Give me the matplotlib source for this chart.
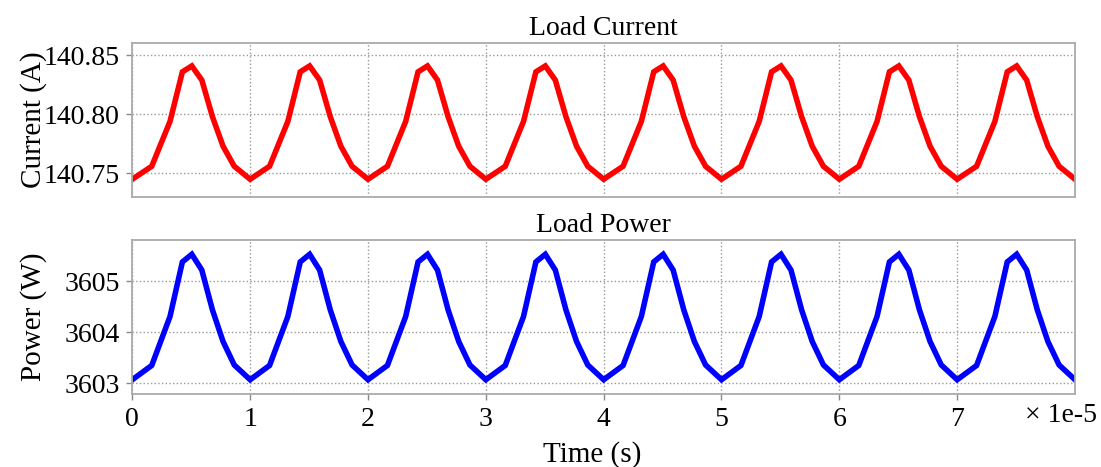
import numpy as np
import matplotlib
matplotlib.use("Agg")
import matplotlib.pyplot as plt
from matplotlib.ticker import FuncFormatter

plt.rcParams["font.family"] = ["Liberation Serif", "DejaVu Serif"]

# Sample times in units of 1e-5 s
time_10us = [
    0.0, 0.165, 0.32, 0.425, 0.505, 0.59, 0.68, 0.77, 0.865,
    1.0, 1.165, 1.32, 1.425, 1.505, 1.59, 1.68, 1.77, 1.865,
    2.0, 2.165, 2.32, 2.425, 2.505, 2.59, 2.68, 2.77, 2.865,
    3.0, 3.165, 3.32, 3.425, 3.505, 3.59, 3.68, 3.77, 3.865,
    4.0, 4.165, 4.32, 4.425, 4.505, 4.59, 4.68, 4.77, 4.865,
    5.0, 5.165, 5.32, 5.425, 5.505, 5.59, 5.68, 5.77, 5.865,
    6.0, 6.165, 6.32, 6.425, 6.505, 6.59, 6.68, 6.77, 6.865,
    7.0, 7.165, 7.32, 7.425, 7.505, 7.59, 7.68, 7.77, 7.865,
    8.0,
]

# Load current (A)
load_current = [
    140.745, 140.756, 140.794, 140.836, 140.841, 140.829, 140.798, 140.773, 140.756,
    140.745, 140.756, 140.794, 140.836, 140.841, 140.829, 140.798, 140.773, 140.756,
    140.745, 140.756, 140.794, 140.836, 140.841, 140.829, 140.798, 140.773, 140.756,
    140.745, 140.756, 140.794, 140.836, 140.841, 140.829, 140.798, 140.773, 140.756,
    140.745, 140.756, 140.794, 140.836, 140.841, 140.829, 140.798, 140.773, 140.756,
    140.745, 140.756, 140.794, 140.836, 140.841, 140.829, 140.798, 140.773, 140.756,
    140.745, 140.756, 140.794, 140.836, 140.841, 140.829, 140.798, 140.773, 140.756,
    140.745, 140.756, 140.794, 140.836, 140.841, 140.829, 140.798, 140.773, 140.756,
    140.745,
]

# Load power (W)
load_power = [
    3603.07, 3603.35, 3604.31, 3605.38, 3605.53, 3605.22, 3604.44, 3603.82, 3603.36,
    3603.07, 3603.35, 3604.31, 3605.38, 3605.53, 3605.22, 3604.44, 3603.82, 3603.36,
    3603.07, 3603.35, 3604.31, 3605.38, 3605.53, 3605.22, 3604.44, 3603.82, 3603.36,
    3603.07, 3603.35, 3604.31, 3605.38, 3605.53, 3605.22, 3604.44, 3603.82, 3603.36,
    3603.07, 3603.35, 3604.31, 3605.38, 3605.53, 3605.22, 3604.44, 3603.82, 3603.36,
    3603.07, 3603.35, 3604.31, 3605.38, 3605.53, 3605.22, 3604.44, 3603.82, 3603.36,
    3603.07, 3603.35, 3604.31, 3605.38, 3605.53, 3605.22, 3604.44, 3603.82, 3603.36,
    3603.07, 3603.35, 3604.31, 3605.38, 3605.53, 3605.22, 3604.44, 3603.82, 3603.36,
    3603.07,
]

current_ticks = [140.75, 140.80, 140.85]
power_ticks = [3603, 3604, 3605]
time_ticks = [0, 1, 2, 3, 4, 5, 6, 7]

t = np.array(time_10us) * 1e-5

W, H = 1101, 467
fig = plt.figure(figsize=(W / 100, H / 100), dpi=100)

left = 132.3 / W
width = (1075 - 132.3) / W
ax1 = fig.add_axes([left, (H - 196.7) / H, width, (196.7 - 43.3) / H])
ax2 = fig.add_axes([left, (H - 394.3) / H, width, (394.3 - 240) / H], sharex=ax1)

FS = 20
spine_color = "#aaaaaa"

ax1.plot(t, load_current, color="#ff0000", lw=4.0, solid_joinstyle="miter")
ax2.plot(t, load_power, color="#0000ff", lw=4.0, solid_joinstyle="miter")

ax1.set_ylim(140.7302, 140.8602)
ax2.set_ylim(3602.784, 3605.81)
ax1.set_xlim(0, 8e-5)

ax1.set_yticks(current_ticks)
ax1.yaxis.set_major_formatter(FuncFormatter(lambda v, p: f"{v:.2f}"))
ax2.set_yticks(power_ticks)
ax2.yaxis.set_major_formatter(FuncFormatter(lambda v, p: f"{v:.0f}"))
ax2.set_xticks(np.array(time_ticks) * 1e-5)
ax2.xaxis.set_major_formatter(FuncFormatter(lambda v, p: f"{v / 1e-5:.0f}"))

for ax in (ax1, ax2):
    ax.grid(True, color="#999999", linestyle=":", linewidth=1.0)
    ax.set_axisbelow(True)
    for s in ax.spines.values():
        s.set_color(spine_color)
        s.set_linewidth(1.3)
    ax.tick_params(axis="both", which="major", labelsize=FS, length=4,
                   width=1.0, color="#888888", pad=5)

ax1.tick_params(axis="x", labelbottom=False, length=0)

ax1.set_title("Load Current", fontsize=FS, pad=6)
ax2.set_title("Load Power", fontsize=FS, pad=6)
ax1.set_ylabel("Current (A)", fontsize=FS + 1)
ax2.set_ylabel("Power (W)", fontsize=FS + 1)
ax2.set_xlabel("Time (s)", fontsize=FS + 1)

ylab_x = (47 - 132.3) / (1075 - 132.3)
ax1.yaxis.set_label_coords(ylab_x, 0.5)
ax2.yaxis.set_label_coords(ylab_x, 0.5)
ax2.xaxis.set_label_coords((592 - 132.3) / (1075 - 132.3), -0.30)

fig.text(1097 / W, (H - 416) / H, "\u00d7 1e-5", fontsize=FS,
         ha="right", va="center")

fig.savefig("out.png", dpi=100)
